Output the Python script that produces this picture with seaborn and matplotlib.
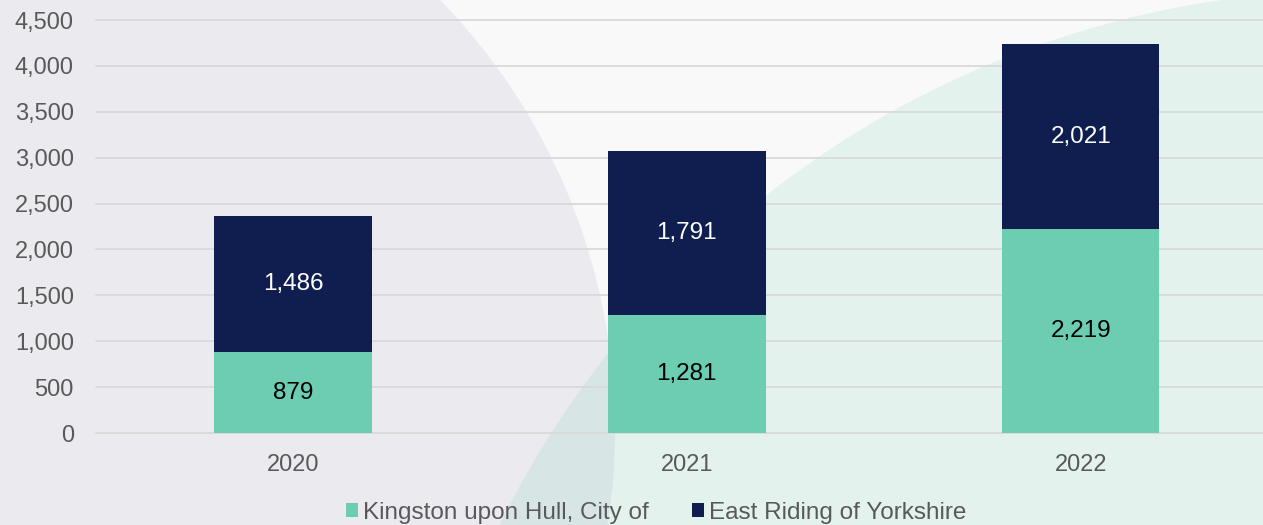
import pandas as pd
import matplotlib.pyplot as plt
import matplotlib.patches as mpatches
import seaborn as sns

years = ['2020', '2021', '2022']
hull = [879, 1281, 2219]
east_riding = [1486, 1791, 2021]
series_names = ['Kingston upon Hull, City of', 'East Riding of Yorkshire']
y_ticks = [0, 500, 1000, 1500, 2000, 2500, 3000, 3500, 4000, 4500]

GREEN = '#6DCDB2'
NAVY = '#0F1E4E'

sns.set_theme(style='white')
plt.rcParams['font.family'] = ['Liberation Sans', 'DejaVu Sans']

df = pd.DataFrame({'year': years, 'hull': hull, 'east': east_riding})

fig = plt.figure(figsize=(12.63, 5.25), dpi=100, facecolor='#F9F9F9')

# decorative background shapes, given in pixels and turned into fractions
W, H = 1263, 525
fig.patches.append(mpatches.Ellipse((-1 / W, 95 / H), 2 * 616 / W,
                                    2 * 616 / H, transform=fig.transFigure,
                                    color='#EBEAEF', lw=0, zorder=-3))
fig.patches.append(mpatches.Ellipse((1359 / W, -423 / H), 2 * 958 / W,
                                    2 * 958 / H, transform=fig.transFigure,
                                    color=GREEN, alpha=0.15, lw=0, zorder=-2))

ax = fig.add_axes([96 / W, 92 / H, 1 - 96 / W, 413 / H])
ax.set_facecolor('none')

sns.barplot(data=df, x='year', y='hull', color=GREEN, width=0.4,
            label=series_names[0], ax=ax, saturation=1, linewidth=0)
sns.barplot(data=df, x='year', y='east', bottom=df['hull'], color=NAVY,
            width=0.4, label=series_names[1], ax=ax, saturation=1,
            linewidth=0)

ax.bar_label(ax.containers[0], labels=[f'{v:,}' for v in hull],
             label_type='center', color='black', fontsize=17.5)
ax.bar_label(ax.containers[1], labels=[f'{v:,}' for v in east_riding],
             label_type='center', color='white', fontsize=17.5)

ax.set_ylim(0, 4500)
ax.set_xlim(-0.5, 2.463)
ax.set_yticks(y_ticks)
ax.set_yticklabels([f'{v:,}' for v in y_ticks])
ax.yaxis.grid(True, color='#D9D9D9', lw=1.3)
ax.set_axisbelow(True)
for s in ax.spines.values():
    s.set_visible(False)
ax.tick_params(axis='y', length=0, pad=16, labelsize=17, labelcolor='#595959')
ax.tick_params(axis='x', length=0, pad=15, labelsize=17, labelcolor='#595959')
ax.set_xlabel('')
ax.set_ylabel('')
for gl in ax.get_ygridlines():
    gl.set_clip_on(False)

ax.legend(loc='center', bbox_to_anchor=(656 / W, 12 / H),
          bbox_transform=fig.transFigure, ncol=2, frameon=False,
          fontsize=17.5, handlelength=0.5, handleheight=0.5,
          handletextpad=0.2, columnspacing=1.8, labelcolor='#595959')

fig.savefig('out.png', dpi=100, facecolor=fig.get_facecolor())
